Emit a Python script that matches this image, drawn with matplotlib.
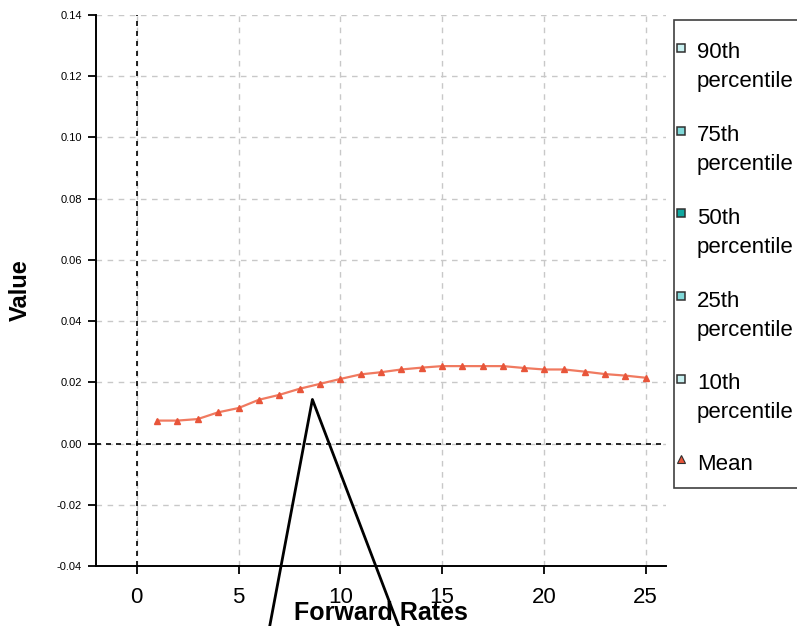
import matplotlib
matplotlib.use("Agg")
import matplotlib.pyplot as plt
from matplotlib.lines import Line2D
from matplotlib.patches import Rectangle

plt.rcParams["font.family"] = ["Liberation Sans", "DejaVu Sans"]

# mean forward rate per tenor
tenor = list(range(1, 26))
mean_val = [0.0075, 0.0075, 0.0080, 0.0102, 0.0116, 0.0143, 0.0159, 0.0179,
            0.0195, 0.0211, 0.0226, 0.0233, 0.0242, 0.0248, 0.0253, 0.0253,
            0.0253, 0.0253, 0.0247, 0.0242, 0.0242, 0.0235, 0.0227, 0.0222,
            0.0215]

# stray callout strokes drawn over the chart
callout_x = [6.24, 8.63, 13.46]
callout_y = [-0.07, 0.0144, -0.07]

legend_labels = ["90th\npercentile", "75th\npercentile", "50th\npercentile",
                 "25th\npercentile", "10th\npercentile"]
legend_colors = ["#c8f0f0", "#80d8d8", "#10a8a0", "#80d8d8", "#c8f0f0"]

xticks = [0, 5, 10, 15, 20, 25]
yticks = [-0.04, -0.02, 0.00, 0.02, 0.04, 0.06, 0.08, 0.10, 0.12, 0.14]

W, H = 797, 626
fig = plt.figure(figsize=(W / 100, H / 100), dpi=100)
ax = fig.add_axes([96 / W, 1 - 566 / H, (666 - 96) / W, (566 - 15) / H])

ax.set_xlim(-2, 26)
ax.set_ylim(-0.04, 0.14)
ax.set_xticks(xticks)
ax.set_yticks(yticks)
ax.set_yticklabels([f"{v:.2f}" for v in yticks], fontsize=8)
ax.tick_params(axis="x", labelsize=16, length=6, width=1.3, pad=9)
ax.tick_params(axis="y", length=6, width=1.3, pad=4)
for s in ["top", "right"]:
    ax.spines[s].set_visible(False)
for s in ["left", "bottom"]:
    ax.spines[s].set_linewidth(1.4)

ax.grid(True, color="#c8c8c8", ls=(0, (4, 4)), lw=1)
ax.set_axisbelow(True)
ax.axvline(0, color="black", ls=(0, (3, 3)), lw=1.2)
ax.axhline(0, color="black", ls=(0, (3, 3)), lw=1.2)

ax.plot(tenor, mean_val, "-", color="#f07a60", lw=1.6, zorder=3)
ax.plot(tenor, mean_val, "^", color="#e8553a", ms=5, zorder=4, ls="none")

ax.plot(callout_x, callout_y, color="black", lw=2, clip_on=False, zorder=5)

ax.set_xlabel("Forward Rates", fontsize=18, fontweight="bold", labelpad=-5)
ax.set_ylabel("Value", fontsize=17, fontweight="bold", labelpad=18)

# legend box, drawn by hand so markers sit beside the first text line
fig.add_artist(Rectangle((674 / W, 1 - 488 / H), 130 / W, (488 - 20) / H,
                         transform=fig.transFigure, facecolor="white",
                         edgecolor="#404040", lw=1.2, clip_on=False))
step = 82.7
for i, (lab, col) in enumerate(zip(legend_labels, legend_colors)):
    y0 = 53 + i * step
    fig.add_artist(Line2D([681 / W], [1 - (y0 - 5) / H], marker="s", ms=6,
                          markerfacecolor=col, markeredgecolor="#303030",
                          markeredgewidth=1.1, transform=fig.transFigure))
    first, second = lab.split("\n")
    fig.text(697 / W, 1 - y0 / H, first, fontsize=16, va="center")
    fig.text(697 / W, 1 - (y0 + 29) / H, second, fontsize=16, va="center")
ym = 464
fig.add_artist(Line2D([681 / W], [1 - (ym - 5) / H], marker="^", ms=6,
                      markerfacecolor="#e8553a", markeredgecolor="#303030",
                      markeredgewidth=0.8, transform=fig.transFigure))
fig.text(697 / W, 1 - ym / H, "Mean", fontsize=16, va="center")

plt.savefig("out.png", dpi=100)
